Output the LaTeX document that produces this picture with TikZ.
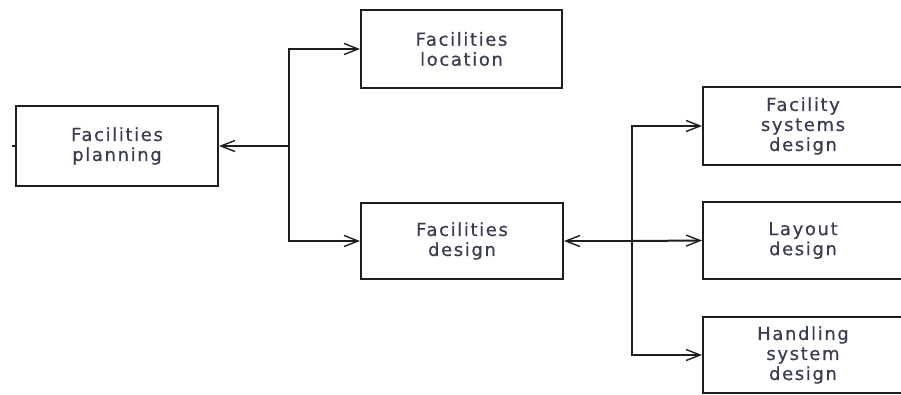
\documentclass[tikz,border=0pt]{standalone}
\usepackage{fontspec}
\setmainfont{DejaVu Sans}[LetterSpace=9,FakeBold=0.6]
\usetikzlibrary{arrows.meta}
\definecolor{txt}{HTML}{3A3D4F}
\definecolor{ln}{HTML}{1E1E1E}
\tikzset{
  blk/.style={draw=ln, line width=2pt, rectangle, inner sep=0pt, align=center,
    text=txt, font=\fontsize{18}{20}\selectfont},
  link/.style={draw=ln, line width=2pt},
  arr/.style={link, -{Straight Barb[length=14pt,width=11pt,line width=1.4pt]}}
}
\begin{document}
\begin{tikzpicture}[x=1pt,y=-1pt]
\useasboundingbox (0,0) rectangle (901,394);
\clip (0,0) rectangle (901,394);
\node[blk, minimum width=202pt, minimum height=80pt] (plan) at (117,146) {Facilities\\planning};
\node[blk, minimum width=201pt, minimum height=78pt] (loc) at (461.5,49) {Facilities\\location};
\node[blk, minimum width=202pt, minimum height=76pt] (des) at (462,241) {Facilities\\design};
\node[blk, minimum width=200pt, minimum height=78pt] (fsd) at (803,126) {Facility\\systems\\design};
\node[blk, minimum width=200pt, minimum height=77pt] (lay) at (803,240.5) {Layout\\design};
\node[blk, minimum width=200pt, minimum height=76pt] (hsd) at (803,355) {Handling\\system\\design};
\coordinate (t1) at (289,146);
\coordinate (t2) at (632,241);
\coordinate (stub) at (12,146);
\draw[link] (plan.west) -- (stub);
\draw[arr] (t1) -- (plan.east);
\draw[arr] (t1) |- (loc.west);
\draw[arr] (t1) |- (des.west);
\draw[arr] (t2) -- (des.east);
\draw[arr] (t2) |- (fsd.west);
\draw[arr] (t2) -- (lay.west);
\draw[arr] (t2) |- (hsd.west);
\end{tikzpicture}
\end{document}
